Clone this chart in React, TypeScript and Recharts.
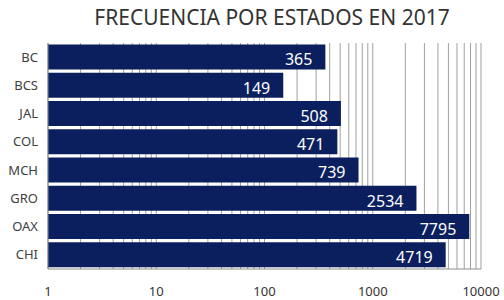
import React from "react";
import { BarChart, Bar, XAxis, YAxis, CartesianGrid, LabelList } from "recharts";

const categories = ["BC", "BCS", "JAL", "COL", "MCH", "GRO", "OAX", "CHI"];
const values = [365, 149, 508, 471, 739, 2534, 7795, 4719];
const majorTicks = [1, 10, 100, 1000, 10000];
const minorMultipliers = [1, 2, 3, 4, 5, 6, 7, 8, 9];

const gridTicks: number[] = [];
majorTicks.slice(0, -1).forEach((m) => minorMultipliers.forEach((k) => gridTicks.push(m * k)));
gridTicks.push(10000);

const data = categories.map((c, i) => ({ name: c, value: values[i] }));

const FONT = "'Noto Sans', 'Open Sans', sans-serif";

const renderLabel = (props: any) => {
  const { x, y, width, height, value } = props;
  return (
    <text
      x={Number(x) + Number(width) - 13}
      y={Number(y) + Number(height) / 2 + 4}
      textAnchor="end"
      dominantBaseline="middle"
      fill="#ffffff"
      fontSize={16}
      fontFamily={FONT}
    >
      {value}
    </text>
  );
};

export default function App() {
  return (
    <div style={{ position: "absolute", left: 0, top: 0, width: 504, height: 300, background: "#fff" }}>
      <div
        style={{
          position: "absolute",
          left: 20,
          top: 5,
          width: 504,
          textAlign: "center",
          fontFamily: FONT,
          fontSize: 21,
          lineHeight: "24px",
          color: "#333333",
        }}
      >
        FRECUENCIA POR ESTADOS EN 2017
      </div>
      <BarChart
        width={504}
        height={300}
        data={data}
        layout="vertical"
        margin={{ top: 43, right: 23, left: 0, bottom: 0 }}
        barCategoryGap={1.5}
      >
        <CartesianGrid horizontal={false} stroke="#a0a0a0" />
        <XAxis
          type="number"
          scale="log"
          domain={[1, 10000]}
          ticks={gridTicks}
          interval={0}
          tickFormatter={(v: number) => (majorTicks.includes(v) ? String(v) : "")}
          tickLine={false}
          tickSize={0}
          tickMargin={18}
          height={31}
          axisLine={{ stroke: "#8c8c8c" }}
          tick={{ fontSize: 13, fill: "#333333", fontFamily: FONT }}
          allowDataOverflow
        />
        <YAxis
          type="category"
          dataKey="name"
          width={48}
          tickLine={false}
          tickSize={0}
          tickMargin={10}
          axisLine={{ stroke: "#8c8c8c" }}
          tick={{ fontSize: 13, fill: "#404040", fontFamily: FONT }}
        />
        <Bar dataKey="value" fill="#0b1f5e" isAnimationActive={false}>
          <LabelList dataKey="value" content={renderLabel} />
        </Bar>
      </BarChart>
    </div>
  );
}
